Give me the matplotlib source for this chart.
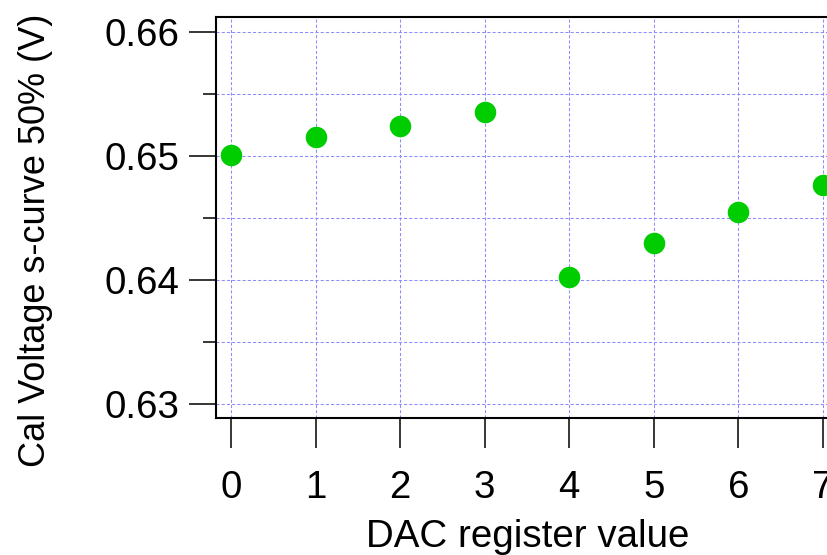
import matplotlib
matplotlib.use("Agg")
import matplotlib.pyplot as plt
from matplotlib.ticker import MultipleLocator

# data
dac_values = [0, 1, 2, 3, 4, 5, 6, 7]
cal_voltage = [0.65008, 0.65148, 0.65237, 0.65350, 0.64023, 0.64301, 0.64547, 0.64765]
y_ticks = [0.63, 0.64, 0.65, 0.66]
y_tick_labels = ["0.63", "0.64", "0.65", "0.66"]

plt.rcParams["font.family"] = ["Liberation Sans", "DejaVu Sans"]

W, H = 827, 555
fig = plt.figure(figsize=(W / 100, H / 100), dpi=100)
# axes runs past the right edge, as in the reference
ax = fig.add_axes([216 / W, 1 - 418 / H, 622 / W, 401 / H])

ax.plot(dac_values, cal_voltage, "o", color="#00cd00", markersize=15.5,
        markeredgewidth=0, zorder=3)

ax.set_xlim(-0.18, 7.18)
ax.set_ylim(0.62887, 0.66118)
ax.set_xticks(dac_values)
ax.set_yticks(y_ticks)
ax.set_yticklabels(y_tick_labels)
ax.yaxis.set_minor_locator(MultipleLocator(0.005))

grid_kw = dict(color="#8c8cff", linewidth=0.75, linestyle=(0, (3, 2)))
ax.grid(True, which="major", axis="both", **grid_kw)
ax.grid(True, which="minor", axis="y", **grid_kw)
ax.set_axisbelow(True)

for spine in ax.spines.values():
    spine.set_linewidth(1.5)
    spine.set_color("black")

ax.tick_params(axis="y", which="major", direction="out", length=19.5, width=1.1,
               pad=7, labelsize=27.7)
ax.tick_params(axis="y", which="minor", direction="out", length=9.5, width=1.1)
ax.tick_params(axis="x", which="major", direction="out", length=21.5, width=1.1,
               pad=16, labelsize=27.7)

ax.set_xlabel("DAC register value", fontsize=27.7, va="baseline")
ax.xaxis.set_label_coords(528 / W, 1 - 547 / H, transform=fig.transFigure)
ax.set_ylabel("Cal Voltage s-curve 50% (V)", fontsize=26, va="center", ha="center")
ax.yaxis.set_label_coords(36 / W, 1 - 240 / H, transform=fig.transFigure)

fig.savefig("out.png", dpi=100)
